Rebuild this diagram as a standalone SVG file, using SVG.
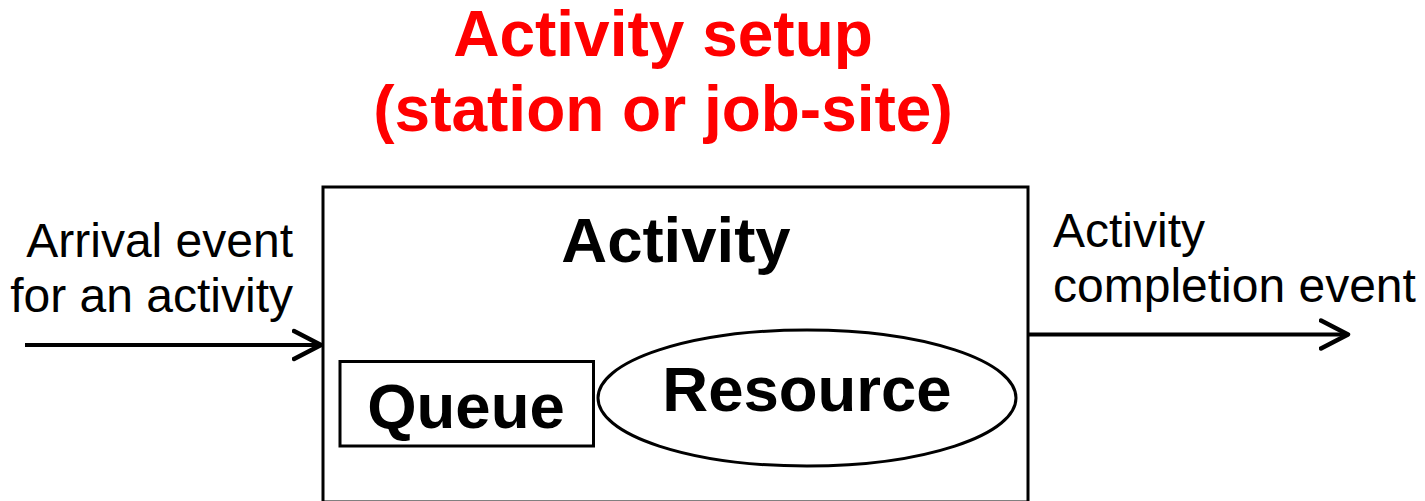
<svg xmlns="http://www.w3.org/2000/svg" width="1425" height="501" viewBox="0 0 1425 501">
<style>
.t{font-family:"Liberation Sans",Arial,sans-serif;}
.b{font-weight:bold;font-size:63.5px;fill:#000;}
.r{font-size:48px;fill:#000;}
.red{font-weight:bold;font-size:64px;fill:#ff0000;}
.shape{fill:#fff;stroke:#000;stroke-width:3;}
.conn{stroke:#000;stroke-width:4;fill:none;}
</style>
<defs>
<marker id="arr" markerWidth="32" markerHeight="36" refX="29" refY="18" orient="auto" markerUnits="userSpaceOnUse">
<path d="M 2 4 L 29 18 L 2 32" fill="none" stroke="#000" stroke-width="4.5" stroke-linecap="round" stroke-linejoin="round"/>
</marker>
</defs>
<rect width="1425" height="501" fill="#fff"/>
<g id="title">
<text class="t red" x="663" y="56" text-anchor="middle">Activity setup</text>
<text class="t red" x="663" y="131" text-anchor="middle">(station or job-site)</text>
</g>
<g id="activity">
<rect class="shape" x="323" y="187" width="705" height="315"/>
<text class="t b" x="676" y="262" text-anchor="middle">Activity</text>
</g>
<g id="queue">
<rect class="shape" x="340" y="361.5" width="253.5" height="84.5"/>
<text class="t b" x="466" y="428" text-anchor="middle">Queue</text>
</g>
<g id="resource">
<ellipse class="shape" cx="807" cy="398" rx="209" ry="68"/>
<text class="t b" x="807" y="411" text-anchor="middle">Resource</text>
</g>
<g id="labels">
<text class="t r" x="293" y="257" text-anchor="end">Arrival event</text>
<text class="t r" x="293" y="312" text-anchor="end">for an activity</text>
<text class="t r" x="1053" y="247">Activity</text>
<text class="t r" x="1053" y="302">completion event</text>
</g>
<g id="connectors">
<line class="conn" x1="25" y1="345" x2="321" y2="345" marker-end="url(#arr)"/>
<line class="conn" x1="1029" y1="334.5" x2="1348" y2="334.5" marker-end="url(#arr)"/>
</g>
</svg>
